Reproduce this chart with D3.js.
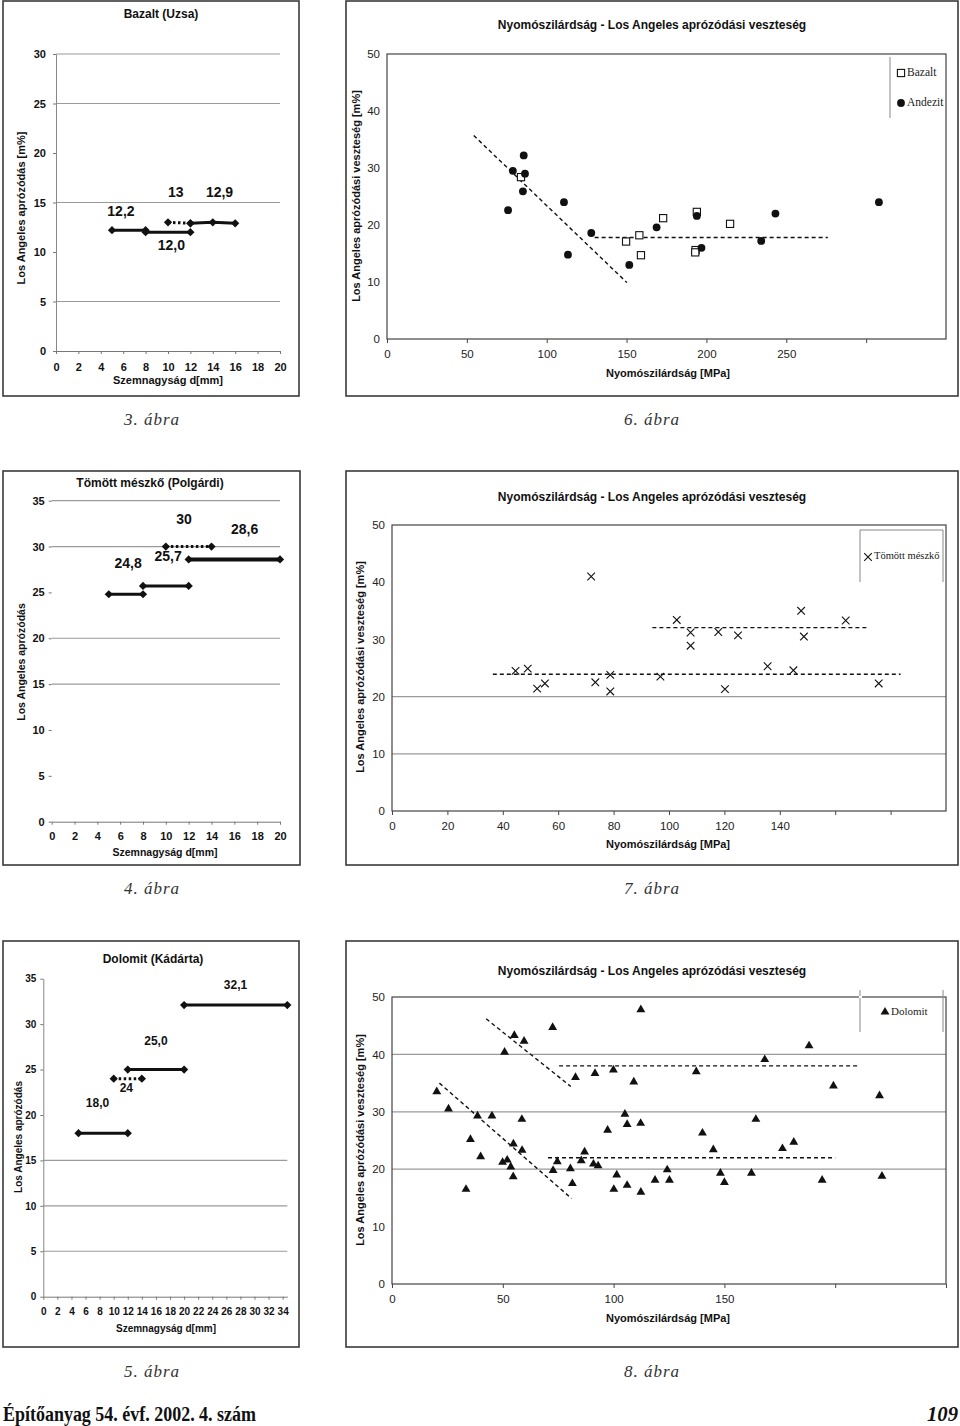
<!DOCTYPE html>
<html><head><meta charset="utf-8">
<script src="https://cdn.jsdelivr.net/npm/d3@7"></script>
<style>body{margin:0;background:#fff}svg{display:block}</style>
</head><body>
<script>
// ---------------- DATA ----------------
// 3. ábra – Bazalt (Uzsa)
const bazaltSolid = [[[5,12.2],[8,12.2]], [[8,12.0],[12,12.0]], [[12,12.9],[14,13.0],[16,12.9]]];
const bazaltDotted = [[[10,13.0],[12,12.9]]];
const bazaltLabels = ["12,2","13","12,9","12,0"];
// 4. ábra – Tömött mészkő (Polgárdi)
const meszkoSolid = [[[5,24.8],[8,24.8]], [[8,25.7],[12,25.7]], [[12,28.6],[20,28.6]]];
const meszkoDotted = [[[10,30],[14,30]]];
const meszkoLabels = ["24,8","25,7","30","28,6"];
// 5. ábra – Dolomit (Kádárta)
const dolomitSolid = [[[5,18.0],[12,18.0]], [[12,25.0],[20,25.0]], [[20,32.1],[34.66,32.1]]];
const dolomitDotted = [[[10,24],[14,24]]];
const dolomitLabels = ["18,0","24","25,0","32,1"];
// x tick labels
const sizeTicks20 = [0,2,4,6,8,10,12,14,16,18,20];
const sizeTicks34 = [0,2,4,6,8,10,12,14,16,18,20,22,24,26,28,30,32,34];

// 6. ábra – scatter Bazalt / Andezit
const andezitX = [75.8,78.8,85.6,86.4,85.1,110.8,113.3,127.9,151.7,168.8,194,196.9,234.3,243.2,308];
const andezitY = [22.6,29.5,32.2,29.0,25.9,24.0,14.8,18.6,13.0,19.6,21.6,16.0,17.2,22.0,24.0];
const bazaltSqX = [83.9,149.7,158,159,172.9,194,193.2,193,214.8];
const bazaltSqY = [28.4,17.1,18.2,14.7,21.2,22.3,15.6,15.2,20.2];
const trend6 = [[[54.3,35.7],[150.2,9.9]], [[130,17.8],[276,17.8]]];

// 7. ábra – Tömött mészkő scatter
const meszkoX = [44.6,49,52.4,55.2,71.9,73.4,78.8,78.8,96.9,102.8,107.8,107.8,117.8,120.2,124.9,135.6,144.9,147.7,148.7,163.8,175.7];
const meszkoY = [24.5,24.9,21.4,22.3,41,22.5,23.8,20.9,23.5,33.4,31.2,28.9,31.3,21.3,30.7,25.3,24.6,35,30.5,33.3,22.3];
const trend7 = [[[36.4,23.9],[183.6,23.9]], [[94,32.05],[172,32.05]]];

// 8. ábra – Dolomit scatter
const dolomitX = [20.2,25.5,33.4,35.4,38.6,40,45.1,49.9,50.8,52,53.6,54.7,54.8,55.2,58.6,58.7,59.6,72.5,72.7,74.6,80.5,81.4,82.8,85.4,86.9,90.9,91.6,93,97.3,99.9,100.1,101.4,105.1,106.1,106.1,109.1,112.2,112.3,112.3,118.7,124.2,125.2,137.3,140.1,145,148.2,150,162.2,164.2,168.2,176.2,181.3,188.2,194.1,199.2,220,221.1];
const dolomitY = [33.5,30.5,16.5,25.2,29.3,22.2,29.3,21.2,40.4,21.6,20.4,18.7,24.4,43.3,28.7,23.3,42.3,44.7,19.8,21.3,20.1,17.5,36,21.5,23,20.9,36.7,20.6,26.8,37.3,16.5,19,29.6,27.8,17.2,35.2,28,47.8,16,18.1,19.9,18.1,37,26.3,23.4,19.3,17.7,19.3,28.7,39.1,23.6,24.7,41.5,18.1,34.5,32.8,18.8];
const trend8 = [[[42.5,46.2],[80.7,34.4]], [[21.4,35],[81,14.9]], [[75.4,38],[210.5,38]], [[70.4,22],[200,22]]];

// ---------------- DRAWING ----------------
const SANS = "'Liberation Sans', Arial, sans-serif";
const SERIF = "'Liberation Serif', 'Times New Roman', serif";
const svg = d3.select("body").append("svg").attr("width",960).attr("height",1426);
svg.append("rect").attr("width",960).attr("height",1426).attr("fill","#fff");

function frame(x,y,w,h){
  svg.append("rect").attr("x",x).attr("y",y).attr("width",w).attr("height",h)
    .attr("fill","none").attr("stroke","#3a3a3a").attr("stroke-width",1.6);
}
function text(g,t,x,y,opt){
  const e = g.append("text").attr("x",x).attr("y",y).text(t)
    .attr("font-family",opt.family||SANS).attr("font-size",opt.size||11)
    .attr("font-weight",opt.weight||"normal").attr("fill",opt.fill||"#111")
    .attr("text-anchor",opt.anchor||"middle").attr("dominant-baseline",opt.baseline||"middle");
  if(opt.style) e.attr("font-style",opt.style);
  if(opt.rotate) e.attr("transform",`rotate(${opt.rotate},${x},${y})`);
  if(opt.ls) e.attr("letter-spacing",opt.ls);
  return e;
}
const diamond = d3.symbol().type(d3.symbolSquare).size(34);

function stepPanel(p){
  const g = svg.append("g");
  const x = d3.scaleLinear().domain(p.xDom).range(p.xPx);
  const y = d3.scaleLinear().domain(p.yDom).range(p.yPx);
  // gridlines
  g.selectAll("line.grid").data(p.grid).join("line")
    .attr("x1",p.xPx[0]).attr("x2",p.xPx[1]).attr("y1",d=>y(d)).attr("y2",d=>y(d))
    .attr("stroke","#9a9a9a").attr("stroke-width",1.2);
  // left axis
  const ya = g.append("g").attr("transform",`translate(${p.xPx[0]},0)`)
    .call(d3.axisLeft(y).tickValues(p.yTicks).tickSize(3).tickSizeOuter(0).tickPadding(p.yPad));
  ya.select(".domain").attr("stroke",p.leftAxis?"#888":"none");
  ya.selectAll("line").attr("stroke","#777");
  ya.selectAll("text").attr("font-family",SANS).attr("font-size",p.tickFont).attr("font-weight","bold").attr("fill","#111");
  // bottom axis
  const xa = g.append("g").attr("transform",`translate(0,${p.yPx[0]})`)
    .call(d3.axisBottom(x).tickValues(p.xTicks).tickSize(3).tickSizeOuter(0).tickPadding(p.xPad));
  xa.select(".domain").attr("stroke","#777");
  xa.selectAll("line").attr("stroke","#777");
  xa.selectAll("text").attr("font-family",SANS).attr("font-size",p.tickFont).attr("font-weight","bold").attr("fill","#111");
  // titles
  text(g,p.title,p.titlePos[0],p.titlePos[1],{size:12,weight:"bold"});
  text(g,"Szemnagyság d[mm]",p.xTitlePos[0],p.xTitlePos[1],{size:p.axisFont,weight:"bold"});
  text(g,p.yTitle,p.yTitlePos[0],p.yTitlePos[1],{size:p.axisFont,weight:"bold",rotate:-90});
  // series
  const line = d3.line().x(d=>x(d[0])).y(d=>y(d[1]));
  p.solid.forEach((s,i)=>{
    g.append("path").attr("d",line(s)).attr("fill","none").attr("stroke","#111")
      .attr("stroke-width",(p.thick && i===p.thick)?4:3);
  });
  p.dotted.forEach(s=>{
    g.append("path").attr("d",line(s)).attr("fill","none").attr("stroke","#111")
      .attr("stroke-width",3).attr("stroke-dasharray","2.5,2.5");
  });
  [...p.solid,...p.dotted].forEach(s=>{
    g.selectAll(null).data(s).join("path").attr("d",diamond)
      .attr("transform",d=>`translate(${x(d[0])},${y(d[1])}) rotate(45)`).attr("fill","#111");
  });
  p.labels.forEach((t,i)=>{
    text(g,t,x(p.labelAt[i][0]),y(p.labelAt[i][1]),{size:p.labelFont,weight:"bold"});
  });
}

function scatterPanel(p){
  const g = svg.append("g");
  const x = d3.scaleLinear().domain(p.xDom).range(p.xPx);
  const y = d3.scaleLinear().domain([0,50]).range(p.yPx);
  g.selectAll("line.grid").data(p.grid).join("line")
    .attr("x1",p.xPx[0]).attr("x2",p.xPx[1]).attr("y1",d=>y(d)).attr("y2",d=>y(d))
    .attr("stroke","#9a9a9a").attr("stroke-width",1.2);
  g.append("rect").attr("x",p.xPx[0]).attr("y",p.yPx[1]).attr("width",p.xPx[1]-p.xPx[0])
    .attr("height",p.yPx[0]-p.yPx[1]).attr("fill","none").attr("stroke","#444").attr("stroke-width",1.2);
  const ya = g.append("g").attr("transform",`translate(${p.xPx[0]},0)`)
    .call(d3.axisLeft(y).tickValues([0,10,20,30,40,50]).tickSize(0).tickPadding(7));
  ya.select(".domain").remove();
  ya.selectAll("text").attr("font-family",SANS).attr("font-size",11.5).attr("fill","#222");
  const xa = g.append("g").attr("transform",`translate(0,${p.yPx[0]})`)
    .call(d3.axisBottom(x).tickValues(p.xTicks).tickSize(4).tickSizeOuter(0).tickPadding(7)
      .tickFormat(d=>p.xLabels.includes(d)?d:""));
  xa.select(".domain").remove();
  xa.selectAll("line").attr("stroke","#444");
  xa.selectAll("text").attr("font-family",SANS).attr("font-size",11.5).attr("fill","#222");
  text(g,"Nyomószilárdság - Los Angeles aprózódási veszteség",p.titlePos[0],p.titlePos[1],{size:12,weight:"bold"});
  text(g,"Nyomószilárdság [MPa]",p.xTitlePos[0],p.xTitlePos[1],{size:11,weight:"bold"});
  text(g,"Los Angeles aprózódási veszteség [m%]",p.yTitlePos[0],p.yTitlePos[1],{size:11,weight:"bold",rotate:-90});
  const line = d3.line().x(d=>x(d[0])).y(d=>y(d[1]));
  p.trends.forEach(t=>{
    g.append("path").attr("d",line(t)).attr("fill","none").attr("stroke","#111")
      .attr("stroke-width",1.4).attr("stroke-dasharray","4,3");
  });
  p.series.forEach(s=>drawMarks(g,s.kind,s.xs.map((v,i)=>[x(v),y(s.ys[i])])));
  return {g,x,y};
}
function drawMarks(g,kind,pts){
  if(kind==="circle"){
    g.selectAll(null).data(pts).join("circle").attr("cx",d=>d[0]).attr("cy",d=>d[1]).attr("r",3.9).attr("fill","#111");
  } else if(kind==="square"){
    g.selectAll(null).data(pts).join("rect").attr("x",d=>d[0]-3.6).attr("y",d=>d[1]-3.6)
      .attr("width",7.2).attr("height",7.2).attr("fill","#fff").attr("stroke","#111").attr("stroke-width",1.1);
  } else if(kind==="cross"){
    g.selectAll(null).data(pts).join("path")
      .attr("d",d=>`M${d[0]-3.8},${d[1]-3.8}L${d[0]+3.8},${d[1]+3.8}M${d[0]-3.8},${d[1]+3.8}L${d[0]+3.8},${d[1]-3.8}`)
      .attr("stroke","#111").attr("stroke-width",1.1).attr("fill","none");
  } else if(kind==="triangle"){
    const tri = d3.symbol().type(d3.symbolTriangle).size(34);
    g.selectAll(null).data(pts).join("path").attr("d",tri)
      .attr("transform",d=>`translate(${d[0]},${d[1]})`).attr("fill","#111");
  }
}

// frames
frame(3,1,296,395); frame(346,1,612,395);
frame(3,471,297,394); frame(346,471,612,394);
frame(3,941,296,406); frame(346,941,612,406);

// Panel 3. ábra
stepPanel({xDom:[0,20],xPx:[56,280],yDom:[0,30],yPx:[351,54],grid:[5,15,25,30],leftAxis:true,
  yTicks:[0,5,10,15,20,25,30],xTicks:sizeTicks20,yPad:7,xPad:9,tickFont:11,axisFont:11,labelFont:14,
  title:"Bazalt (Uzsa)",titlePos:[161,15],xTitlePos:[168,381],
  yTitle:"Los Angeles aprózódás [m%]",yTitlePos:[22,208],
  solid:bazaltSolid,dotted:bazaltDotted,labels:bazaltLabels,
  labelAt:[[5.8,14.0],[10.7,15.9],[14.6,15.9],[10.3,10.6]]});

// Panel 4. ábra
stepPanel({xDom:[0,20],xPx:[51.7,280],yDom:[0,35],yPx:[821.7,500.7],grid:[15,20,30,35],leftAxis:false,
  yTicks:[0,5,10,15,20,25,30,35],xTicks:sizeTicks20,yPad:4,xPad:8,tickFont:11,axisFont:10.5,labelFont:14,
  title:"Tömött mészkő (Polgárdi)",titlePos:[150,484],xTitlePos:[165,853],
  yTitle:"Los Angeles aprózódás",yTitlePos:[22,662],
  solid:meszkoSolid,dotted:meszkoDotted,thick:2,labels:meszkoLabels,
  labelAt:[[6.7,28.1],[10.2,28.8],[11.6,32.9],[16.9,31.8]]});

// Panel 5. ábra
stepPanel({xDom:[0,34.66],xPx:[43.3,287.3],yDom:[0,35],yPx:[1296.7,978.7],grid:[5,10,15],leftAxis:true,
  yTicks:[0,5,10,15,20,25,30,35],xTicks:sizeTicks34,yPad:4,xPad:8,tickFont:10,axisFont:10,labelFont:12,
  title:"Dolomit (Kádárta)",titlePos:[153,960],xTitlePos:[166,1329],
  yTitle:"Los Angeles aprózódás",yTitlePos:[19,1137],
  solid:dolomitSolid,dotted:dolomitDotted,labels:dolomitLabels,
  labelAt:[[7.7,21.2],[11.8,22.9],[16.0,28.1],[27.3,34.2]]});

// 6. ábra
const p6 = scatterPanel({xDom:[0,350],xPx:[387,946],yPx:[339,54],grid:[],
  xTicks:[0,50,100,150,200,250,300],xLabels:[0,50,100,150,200,250],
  titlePos:[652,26],xTitlePos:[668,374],yTitlePos:[357,196],trends:trend6,
  series:[{kind:"square",xs:bazaltSqX,ys:bazaltSqY},{kind:"circle",xs:andezitX,ys:andezitY}]});
// legend 6
p6.g.append("line").attr("x1",890).attr("x2",890).attr("y1",57).attr("y2",118).attr("stroke","#888");
drawMarks(p6.g,"square",[[901,73]]); drawMarks(p6.g,"circle",[[901,103]]);
text(p6.g,"Bazalt",907,73,{family:SERIF,size:11.5,anchor:"start",fill:"#222"});
text(p6.g,"Andezit",907,103,{family:SERIF,size:11.5,anchor:"start",fill:"#222"});

// 7. ábra
const p7 = scatterPanel({xDom:[0,200],xPx:[392,946],yPx:[811,525],grid:[10,20],
  xTicks:[0,20,40,60,80,100,120,140,160,180],xLabels:[0,20,40,60,80,100,120,140],
  titlePos:[652,498],xTitlePos:[668,845],yTitlePos:[361,667],trends:trend7,
  series:[{kind:"cross",xs:meszkoX,ys:meszkoY}]});
p7.g.append("path").attr("d","M860,582V530H943V582").attr("fill","none").attr("stroke","#888");
drawMarks(p7.g,"cross",[[868,557]]);
text(p7.g,"Tömött mészkő",874,557,{family:SERIF,size:10.5,anchor:"start",fill:"#222"});

// 8. ábra
const p8 = scatterPanel({xDom:[0,250],xPx:[392,946],yPx:[1284,997],grid:[20,30,40],
  xTicks:[0,50,100,150,200,250],xLabels:[0,50,100,150],
  titlePos:[652,972],xTitlePos:[668,1319],yTitlePos:[361,1140],trends:trend8,
  series:[{kind:"triangle",xs:dolomitX,ys:dolomitY}]});
p8.g.append("path").attr("d","M860,1032V990M943,990V1032").attr("fill","none").attr("stroke","#888");
p8.g.append("rect").attr("x",859).attr("y",996).attr("width",3).attr("height",2).attr("fill","#fff");
drawMarks(p8.g,"triangle",[[885,1012]]);
text(p8.g,"Dolomit",891,1012,{family:SERIF,size:11,anchor:"start",fill:"#222"});

// captions
const caps = [["3. ábra",152,425],["6. ábra",652,425],["4. ábra",152,894],["7. ábra",652,894],["5. ábra",152,1377],["8. ábra",652,1377]];
caps.forEach(c=>text(svg,c[0],c[1],c[2],{family:SERIF,size:17,style:"italic",fill:"#333",baseline:"auto",ls:1}));

// footer
text(svg,"Építőanyag 54. évf. 2002. 4. szám",3,1421,{family:SERIF,size:20,weight:"bold",anchor:"start",baseline:"auto"})
  .attr("textLength",253).attr("lengthAdjust","spacingAndGlyphs");
text(svg,"109",958,1421,{family:SERIF,size:22,weight:"bold",style:"italic",anchor:"end",baseline:"auto"})
  .attr("textLength",31).attr("lengthAdjust","spacingAndGlyphs");
</script>
</body></html>
